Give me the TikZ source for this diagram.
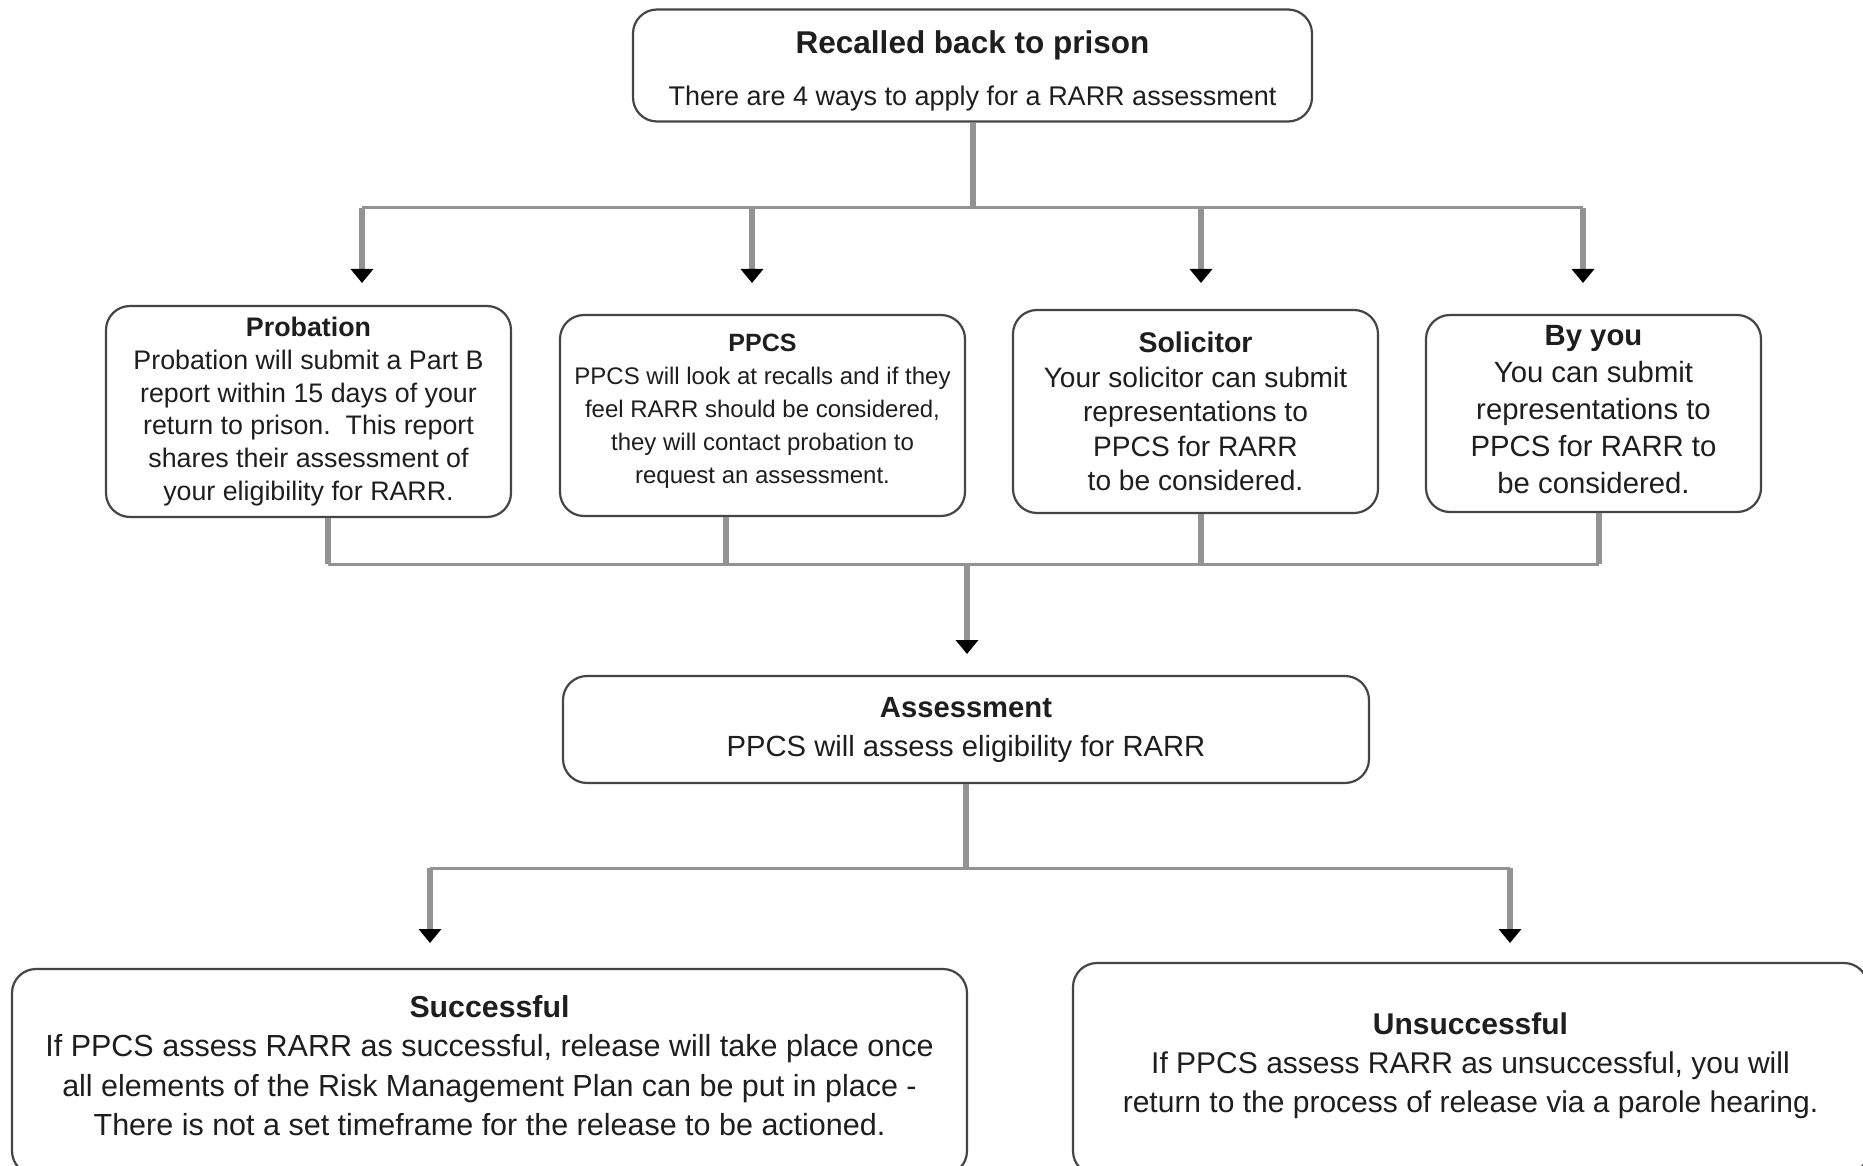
\documentclass[tikz,border=0pt]{standalone}
\usepackage{fontspec}
\setmainfont{Liberation Sans}
\usetikzlibrary{arrows.meta}
\definecolor{linegray}{HTML}{939393}
\definecolor{boxline}{HTML}{454545}
\definecolor{txt}{HTML}{1E1E1E}
\newcommand{\myfs}[2]{\fontsize{#1}{#2}\selectfont}
\newcommand{\deepstrut}[1]{\rule[-#1]{0pt}{#1}}
\newcommand{\tallstrut}[1]{\rule{0pt}{#1}}
\tikzset{
  box/.style={draw=boxline, line width=2.2pt, rounded corners=24pt, inner sep=0pt, align=center, text=txt},
  conn/.style={draw=linegray, line width=6pt},
  bus/.style={draw=linegray, line width=3pt},
  arr/.style={draw=linegray, line width=6pt, -{Triangle[width=22pt,length=14pt,color=black]}},
}
\begin{document}
\begin{tikzpicture}[x=1pt,y=-1pt]
\clip (0,0) rectangle (1863,1166);
\fill[white] (0,0) rectangle (1863,1166);

% boxes
\node[box, minimum width=679pt, minimum height=112pt, font=\myfs{27}{33}] (top) at (972.5,65.5)
  {\tallstrut{34pt}\textbf{\myfs{31.5}{33}Recalled back to prison}\\[19.6pt]There are 4 ways to apply for a RARR assessment};

\node[box, minimum width=405pt, minimum height=211pt, font=\myfs{26.8}{32.8}] (prob) at (308.5,411.5)
  {\textbf{Probation}\\Probation will submit a Part B\\report within 15 days of your\\return to prison.\ \ This report\\shares their assessment of\\your eligibility for RARR.};

\node[box, minimum width=405pt, minimum height=201pt, font=\myfs{24}{33}] (ppcs) at (762.5,415.5)
  {\textbf{\myfs{25}{33}PPCS}\\PPCS will look at recalls and if they\\feel RARR should be considered,\\they will contact probation to\\request an assessment.\deepstrut{13pt}};

\node[box, minimum width=365pt, minimum height=203pt, font=\myfs{28.1}{34.5}] (sol) at (1195.5,411.5)
  {\textbf{\myfs{28.5}{34.5}Solicitor}\\Your solicitor can submit\\representations to\\PPCS for RARR\\to be considered.};

\node[box, minimum width=335pt, minimum height=197pt, font=\myfs{29.3}{37}] (you) at (1593.5,413.5)
  {\textbf{By you}\\You can submit\\representations to\\PPCS for RARR to\\be considered.\deepstrut{8.6pt}};

\node[box, minimum width=806pt, minimum height=107pt, font=\myfs{29.2}{39}] (asm) at (966,729.5)
  {\textbf{Assessment}\\PPCS will assess eligibility for RARR};

\node[box, minimum width=955pt, minimum height=206pt, font=\myfs{30.5}{39.5}] (succ) at (489.5,1072)
  {\textbf{\myfs{30.3}{40}Successful}\\If PPCS assess RARR as successful, release will take place once\\all elements of the Risk Management Plan can be put in place -\\There is not a set timeframe for the release to be actioned.\deepstrut{12.5pt}};

\node[box, minimum width=795pt, minimum height=212pt, font=\myfs{30}{39}] (unsucc) at (1470.5,1069)
  {\textbf{Unsuccessful}\\If PPCS assess RARR as unsuccessful, you will\\return to the process of release via a parole hearing.\deepstrut{12pt}};

% junction coordinates
\coordinate (j0) at (972.5,208);
\coordinate (h1) at (362,208);
\coordinate (h2) at (752,208);
\coordinate (h3) at (1201,208);
\coordinate (h4) at (1583,208);
\coordinate (a1) at (362,283);
\coordinate (a2) at (752,283);
\coordinate (a3) at (1201,283);
\coordinate (a4) at (1583,283);

\coordinate (b1) at (328,564);
\coordinate (b2) at (726,564);
\coordinate (b3) at (1201,564);
\coordinate (b4) at (1599,564);
\coordinate (c0) at (967,564);
\coordinate (c1) at (967,654);

\coordinate (d0) at (966,868);
\coordinate (d1) at (430,868);
\coordinate (d2) at (1510,868);
\coordinate (e1) at (430,943);
\coordinate (e2) at (1510,943);

% top fan-out
\draw[conn] (top.south) -- (j0);
\draw[bus] (h1) -- (h4);
\draw[arr] (h1) -- (a1);
\draw[arr] (h2) -- (a2);
\draw[arr] (h3) -- (a3);
\draw[arr] (h4) -- (a4);

% fan-in
\draw[conn] (b1 |- prob.south) -- (b1);
\draw[conn] (b2 |- ppcs.south) -- (b2);
\draw[conn] (b3 |- sol.south) -- (b3);
\draw[conn] (b4 |- you.south) -- (b4);
\draw[bus] (b1) -- (b4);
\draw[arr] (c0) -- (c1);

% outcome fan-out
\draw[conn] (asm.south) -- (d0);
\draw[bus] (d1) -- (d2);
\draw[arr] (d1) -- (e1);
\draw[arr] (d2) -- (e2);
\end{tikzpicture}
\end{document}
